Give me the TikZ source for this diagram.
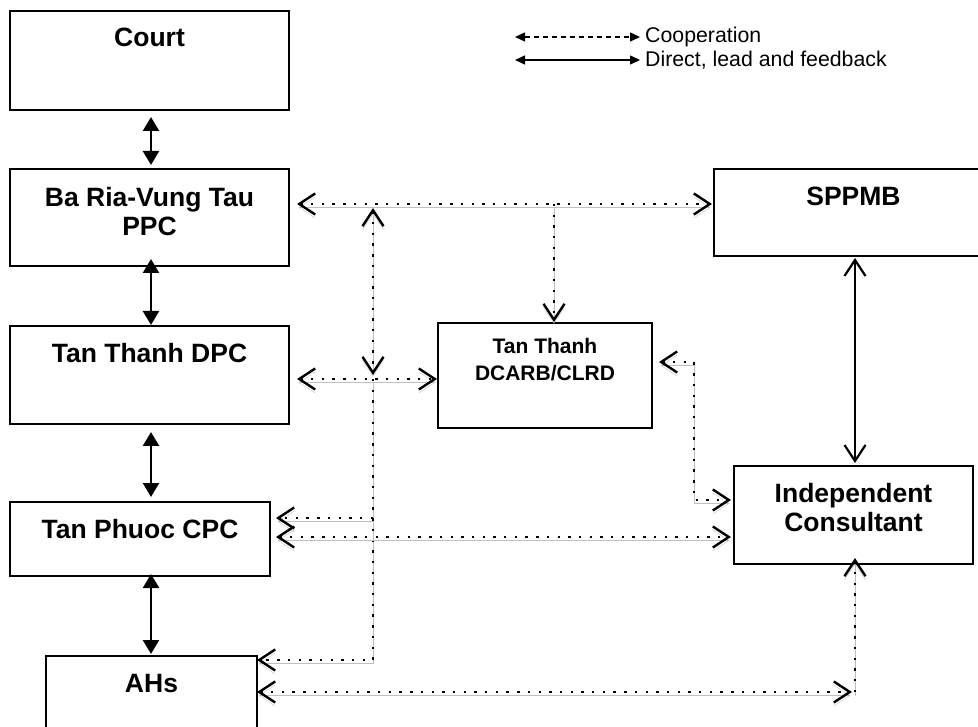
\documentclass[tikz,border=0pt]{standalone}
\usepackage{fontspec}
\setmainfont{Liberation Sans}
\usetikzlibrary{arrows.meta}
\begin{document}
\begin{tikzpicture}[x=1pt,y=-1pt,
  box/.style={draw, line width=2pt, inner sep=0pt, outer sep=0pt},
  bigtxt/.style={font=\fontsize{26.5}{29.5}\selectfont\bfseries, align=center, inner sep=0pt, anchor=north},
  smalltxt/.style={font=\fontsize{21}{27}\selectfont\bfseries, align=center, inner sep=0pt, anchor=north},
  legtxt/.style={font=\fontsize{21.3}{24}\selectfont, anchor=west, inner sep=5pt},
  solidarr/.style={line width=2.5pt, arrows={Triangle[length=14pt,width=16pt]-Triangle[length=14pt,width=16pt]}},
  openarr/.style={line width=2.2pt, arrows={Straight Barb[length=16pt,width=21pt]-Straight Barb[length=16pt,width=21pt]}},
  coop/.style={line width=2.4pt, dash pattern=on 2.4pt off 8.3pt,
    preaction={draw=black!25, transform canvas={shift={(0pt,-3.5pt)}}}},
  bt/.style={arrows={Straight Barb[length=16pt,width=21pt]-Straight Barb[length=16pt,width=21pt]}},
  et/.style={arrows={-Straight Barb[length=16pt,width=21pt]}},
  legdash/.style={line width=1.3pt, dash pattern=on 5pt off 4pt, arrows={Triangle[length=10pt,width=9pt]-Triangle[length=10pt,width=9pt]}},
  legsolid/.style={line width=1.4pt, arrows={Triangle[length=10pt,width=9pt]-Triangle[length=10pt,width=9pt]}}
]
\useasboundingbox (0,0) rectangle (978,727);

% boxes
\node[box, minimum width=279pt, minimum height=99pt,
  label={[bigtxt, name=courtL, yshift=-17pt]north:Court}] (court) at (149.5,60.5) {};
\node[box, minimum width=279pt, minimum height=97pt,
  label={[bigtxt, name=brvtL, yshift=-18pt]north:Ba Ria-Vung Tau\\PPC}] (brvt) at (149.5,217.5) {};
\node[box, minimum width=279pt, minimum height=98pt,
  label={[bigtxt, name=dpcL, yshift=-17pt]north:Tan Thanh DPC}] (dpc) at (149.5,375) {};
\node[box, minimum width=260pt, minimum height=74pt,
  label={[bigtxt, name=cpcL, yshift=-17pt]north:Tan Phuoc CPC}] (cpc) at (140,539) {};
\node[box, minimum width=211pt, minimum height=98pt,
  label={[bigtxt, name=ahsL, yshift=-18pt]north:AHs}] (ahs) at (151.5,705) {};
\node[box, minimum width=279pt, minimum height=87pt,
  label={[bigtxt, name=sppmbL, yshift=-18pt]north:SPPMB}] (sppmb) at (853.5,212.5) {};
\node[box, minimum width=214pt, minimum height=105pt,
  label={[smalltxt, name=dcarbL, yshift=-15pt]north:Tan Thanh\\DCARB/CLRD}] (dcarb) at (545,375.5) {};
\node[box, minimum width=239pt, minimum height=98pt,
  label={[bigtxt, name=icL, yshift=-17pt]north:Independent\\Consultant}] (ic) at (853.5,515) {};

% helper coordinates
\coordinate (colx) at (151,0);
\coordinate (j1) at (373,204);
\coordinate (j2) at (554,204);
\coordinate (j3) at (373,379);
\coordinate (j4) at (373,518);
\coordinate (j5) at (373,660);
\coordinate (k1) at (694,362);
\coordinate (k2) at (694,500);
\coordinate (c2) at (500,537);
\coordinate (m1) at (855,692);

% solid (direct, lead and feedback)
\draw[solidarr, shorten <=7pt, shorten >=4pt] (court.south -| colx) -- (brvt.north -| colx);
\draw[solidarr, shorten <=-7pt, shorten >=1pt] (brvt.south -| colx) -- (dpc.north -| colx);
\draw[solidarr, shorten <=8pt, shorten >=5pt] (dpc.south -| colx) -- (cpc.north -| colx);
\draw[solidarr, shorten <=-2pt, shorten >=2pt] (cpc.south -| colx) -- (ahs.north -| colx);
\draw[openarr, shorten <=2pt, shorten >=3pt] (sppmb.south -| m1) -- (ic.north -| m1);

% dotted (cooperation)
\draw[coop, bt, shorten <=8pt, shorten >=2pt] (brvt.east |- j1) -- (sppmb.west |- j1);
\draw[coop, et, shorten >=1pt] (j2) -- (j2 |- dcarb.north);
\draw[coop, bt, shorten <=4pt, shorten >=4pt] (j1) -- (j3);
\draw[coop, bt, shorten <=8pt, shorten >=1pt] (dpc.east |- j3) -- (dcarb.west |- j3);
\draw[coop, et] (j3) -- (j5) -- (ahs.east |- j5);
\draw[coop, et, shorten >=6pt] (j4) -- (cpc.east |- j4);
\draw[coop, bt, shorten <=7pt, shorten >=3pt] (dcarb.east |- k1) -- (k1) -- (k2) -- (ic.west |- k2);
\draw[coop, bt, shorten <=6pt, shorten >=3pt] (cpc.east |- c2) -- (ic.west |- c2);
\draw[coop, bt, shorten >=3pt] (ahs.east |- m1) -- (m1);
\draw[coop, et, shorten >=-6pt] (m1) -- (m1 |- ic.south);

% legend
\coordinate (lg1) at (515,37);
\coordinate (lg2) at (515,60);
\node[legtxt] (coopT) at (640,37) {Cooperation};
\node[legtxt] (dirT) at (640,60) {Direct, lead and feedback};
\draw[legdash] (lg1) -- (coopT.west);
\draw[legsolid] (lg2) -- (dirT.west);
\end{tikzpicture}
\end{document}
